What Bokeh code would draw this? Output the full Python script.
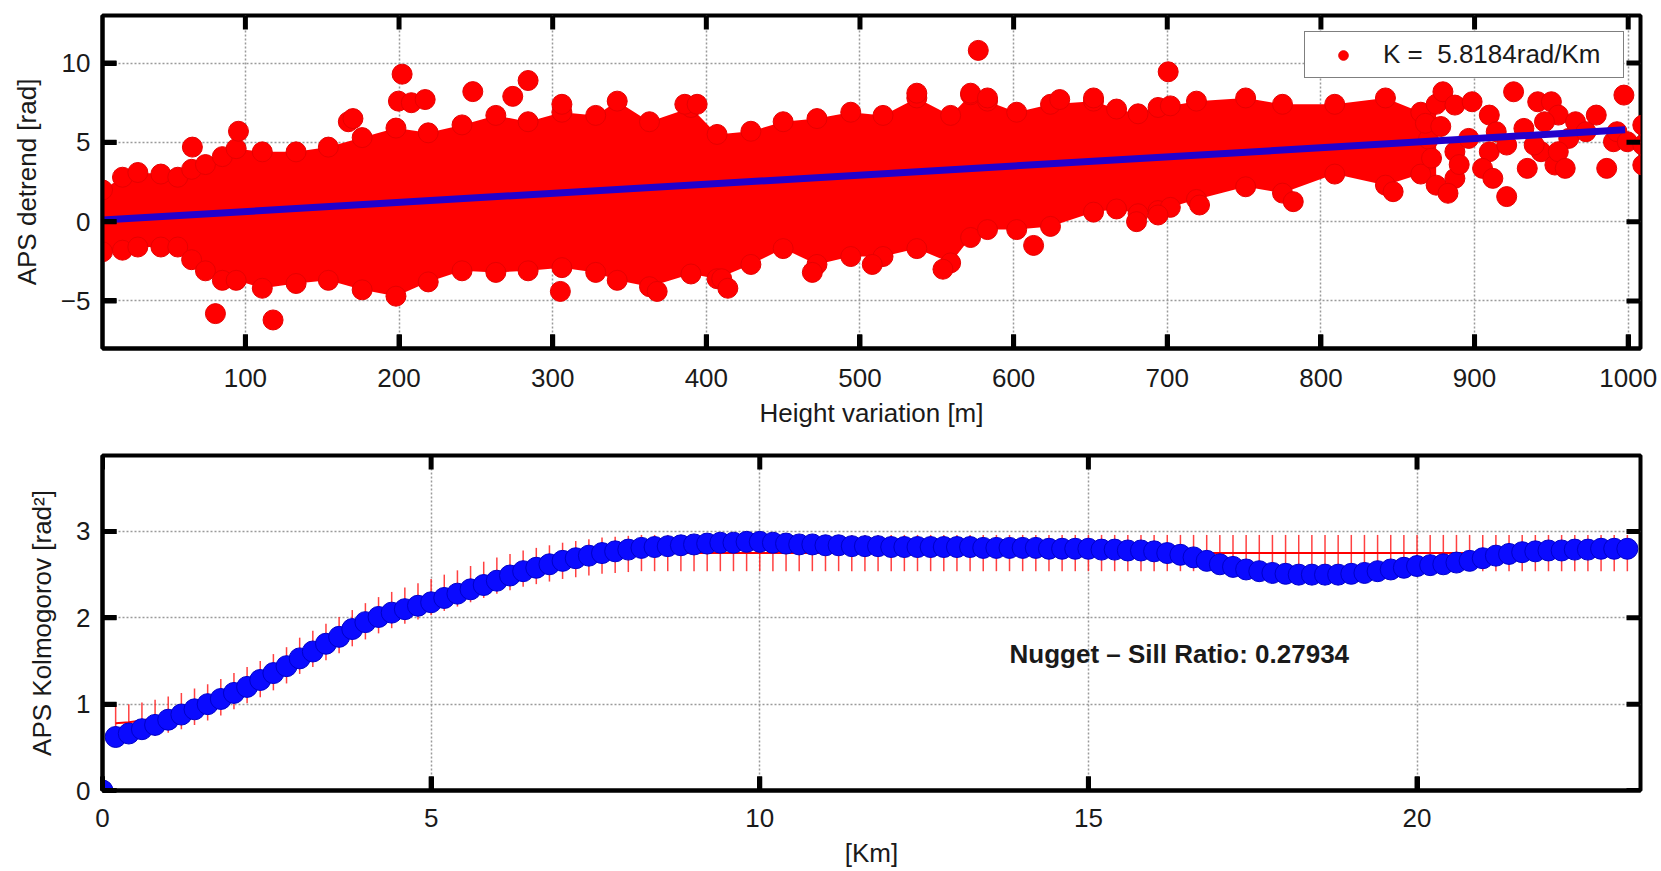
import numpy as np
from bokeh.plotting import figure
from bokeh.layouts import column
from bokeh.models import (ColumnDataSource, FixedTicker, Range1d,
                          Legend, LegendItem, Label)
from bokeh.embed import file_html
from bokeh.resources import INLINE

FONT = "Liberation Sans"

# ---------------- top panel data ----------------
height_range = (7, 1008)
detrend_range = (-8, 13)
cloud_x = [7, 20, 30, 45, 56, 65, 74, 85, 94, 111, 133, 154, 176, 198, 219, 241,
           263, 284, 306, 328, 342, 363, 390, 407, 429, 450, 472, 494, 515, 537,
           559, 572, 583, 602, 624, 652, 667, 681, 694, 702, 719, 751, 775, 809,
           842, 865, 875]
cloud_upper = [2.0, 2.8, 3.1, 3.0, 2.8, 3.3, 3.6, 4.1, 4.6, 4.4, 4.4, 4.7, 5.3, 5.9,
               5.6, 6.1, 6.7, 6.3, 6.9, 6.7, 7.6, 6.3, 7.2, 5.5, 5.7, 6.3, 6.5, 6.9,
               6.7, 7.8, 6.7, 8.0, 7.6, 6.9, 7.4, 7.6, 7.1, 6.8, 7.2, 7.3, 7.6, 7.8,
               7.4, 7.4, 7.8, 6.9, 7.4]
cloud_lower = [-1.9, -1.8, -1.6, -1.6, -1.6, -2.4, -3.1, -3.7, -3.7, -4.2, -3.9, -3.7,
               -4.3, -4.7, -3.8, -3.1, -3.2, -3.1, -2.9, -3.2, -3.7, -4.1, -3.3, -3.6,
               -2.7, -1.7, -2.7, -2.2, -2.2, -1.7, -2.6, -1.0, -0.5, -0.5, -0.3, 0.6,
               0.8, 0.5, 0.7, 0.9, 1.4, 2.2, 1.8, 3.0, 2.3, 3.0, 2.3]
outlier_x = [65.5, 95.5, 167, 170, 202, 199.6, 208, 217, 248, 274, 284, 306, 386, 394,
             537, 572, 577, 583, 630, 652, 700.6, 80.5, 118, 305, 368, 410, 414, 469,
             508, 554, 613, 680, 721, 782, 847, 694]
outlier_y = [4.7, 5.7, 6.3, 6.5, 9.3, 7.6, 7.5, 7.7, 8.2, 7.9, 8.9, 7.4, 7.4, 7.4,
             8.1, 8.1, 10.8, 7.8, 7.7, 7.8, 9.45, -5.8, -6.2, -4.4, -4.4, -3.6, -4.2,
             -3.2, -2.7, -3.0, -1.5, 0.0, 1.05, 1.26, 1.89, 0.42]
sparse_x = [879.4, 887.2, 898.4, 909.6, 914.1, 909.6, 905.2, 920.9, 925.4, 920.9,
            911.9, 932.1, 934.3, 941.1, 950.0, 954.5, 945.5, 943.3, 952.3, 961.3,
            965.7, 972.5, 979.2, 986.0, 990.4, 997.2, 992.7, 999.4, 1009.5, 1009.5,
            1009.5, 887.2, 887.2, 882.7, 896.2, 954.5, 959.0, 938.8, 870.0, 872.0,
            868.0, 878.0, 890.0]
sparse_y = [8.19, 7.35, 7.56, 6.72, 5.67, 4.41, 3.36, 4.83, 8.19, 1.58, 2.73, 5.88,
            3.36, 7.56, 7.56, 6.72, 6.30, 4.41, 3.57, 5.25, 6.30, 5.67, 6.72, 3.36,
            5.04, 7.98, 5.67, 5.04, 6.09, 4.83, 3.57, 4.41, 2.73, 1.79, 5.25, 4.41,
            3.36, 4.83, 5.2, 4.0, 6.2, 6.0, 3.6]
fit_x = [7, 998]
fit_y = [0.1, 5.8]
height_ticks = [100, 200, 300, 400, 500, 600, 700, 800, 900, 1000]
detrend_ticks = [-5, 0, 5, 10]
legend_label = "K = \u00a05.8184rad/Km"

# ---------------- bottom panel data ----------------
km_range = (0, 23.4)
kolm_range = (0, 3.88)
lag_km = [0.2, 0.4, 0.6, 0.8, 1.0, 1.2, 1.4, 1.6, 1.8, 2.0,
          2.2, 2.4, 2.6, 2.8, 3.0, 3.2, 3.4, 3.6, 3.8, 4.0,
          4.2, 4.4, 4.6, 4.8, 5.0, 5.2, 5.4, 5.6, 5.8, 6.0,
          6.2, 6.4, 6.6, 6.8, 7.0, 7.2, 7.4, 7.6, 7.8, 8.0,
          8.2, 8.4, 8.6, 8.8, 9.0, 9.2, 9.4, 9.6, 9.8, 10.0,
          10.2, 10.4, 10.6, 10.8, 11.0, 11.2, 11.4, 11.6, 11.8, 12.0,
          12.2, 12.4, 12.6, 12.8, 13.0, 13.2, 13.4, 13.6, 13.8, 14.0,
          14.2, 14.4, 14.6, 14.8, 15.0, 15.2, 15.4, 15.6, 15.8, 16.0,
          16.2, 16.4, 16.6, 16.8, 17.0, 17.2, 17.4, 17.6, 17.8, 18.0,
          18.2, 18.4, 18.6, 18.8, 19.0, 19.2, 19.4, 19.6, 19.8, 20.0,
          20.2, 20.4, 20.6, 20.8, 21.0, 21.2, 21.4, 21.6, 21.8, 22.0,
          22.2, 22.4, 22.6, 22.8, 23.0, 23.2]
gamma_exp = [0.62, 0.66, 0.71, 0.76, 0.82, 0.88, 0.94, 1.00, 1.06, 1.13,
             1.20, 1.28, 1.36, 1.44, 1.53, 1.61, 1.70, 1.78, 1.87, 1.95,
             2.01, 2.06, 2.10, 2.14, 2.18, 2.23, 2.28, 2.33, 2.38, 2.43,
             2.49, 2.54, 2.58, 2.62, 2.66, 2.69, 2.72, 2.75, 2.77, 2.79,
             2.81, 2.82, 2.83, 2.84, 2.85, 2.86, 2.87, 2.87, 2.88, 2.88,
             2.87, 2.86, 2.85, 2.85, 2.84, 2.84, 2.83, 2.83, 2.83, 2.82,
             2.82, 2.82, 2.82, 2.82, 2.82, 2.82, 2.81, 2.81, 2.81, 2.81,
             2.81, 2.80, 2.80, 2.80, 2.80, 2.79, 2.79, 2.78, 2.78, 2.77,
             2.75, 2.73, 2.70, 2.66, 2.62, 2.59, 2.56, 2.54, 2.52, 2.51,
             2.50, 2.50, 2.50, 2.50, 2.51, 2.52, 2.54, 2.56, 2.58, 2.60,
             2.61, 2.62, 2.64, 2.66, 2.69, 2.72, 2.74, 2.76, 2.77, 2.78,
             2.78, 2.79, 2.79, 2.80, 2.80, 2.80]
gamma_model = [0.78, 0.79, 0.81, 0.84, 0.88, 0.92, 0.97, 1.02, 1.08, 1.15,
               1.22, 1.29, 1.37, 1.45, 1.56, 1.64, 1.72, 1.80, 1.88, 1.96,
               2.03, 2.09, 2.14, 2.19, 2.24, 2.29, 2.34, 2.39, 2.44, 2.49,
               2.53, 2.57, 2.60, 2.63, 2.66, 2.68, 2.70, 2.72, 2.73, 2.74,
               2.75, 2.75, 2.75, 2.75, 2.75, 2.75, 2.75, 2.75, 2.75, 2.75,
               2.75, 2.75, 2.75, 2.75, 2.75, 2.75, 2.75, 2.75, 2.75, 2.75,
               2.75, 2.75, 2.75, 2.75, 2.75, 2.75, 2.75, 2.75, 2.75, 2.75,
               2.75, 2.75, 2.75, 2.75, 2.75, 2.75, 2.75, 2.75, 2.75, 2.75,
               2.75, 2.75, 2.75, 2.75, 2.75, 2.75, 2.75, 2.75, 2.75, 2.75,
               2.75, 2.75, 2.75, 2.75, 2.75, 2.75, 2.75, 2.75, 2.75, 2.75,
               2.75, 2.75, 2.75, 2.75, 2.75, 2.75, 2.75, 2.75, 2.75, 2.75,
               2.75, 2.75, 2.75, 2.75, 2.75, 2.75]
model_err = 0.21
origin_x = [0.0]
origin_y = [0.0]
km_ticks = [0, 5, 10, 15, 20]
kolm_ticks = [0, 1, 2, 3]
ratio_text = "Nugget \u2013 Sill Ratio: 0.27934"
ratio_x = 13.8
ratio_y = 1.58

# ---------------- layout constants ----------------
FIG_W = 1661
BORDER_L, BORDER_R = 102, 21
FRAME_W = FIG_W - BORDER_L - BORDER_R
TICK_PX = 14
TICK_W = 5


def matlab_style(p, xticks, yticks, xr, yr, frame_h, xlabel, ylabel,
                 tick_standoff, title_standoff):
    p.outline_line_color = "black"
    p.outline_line_width = 4
    p.background_fill_color = "white"
    p.border_fill_color = "white"
    xa, ya = p.below[0], p.left[0]
    xa.ticker = FixedTicker(ticks=xticks)
    ya.ticker = FixedTicker(ticks=yticks)
    xa.axis_label = xlabel
    ya.axis_label = ylabel
    for ax in (xa, ya):
        ax.axis_line_color = "black"
        ax.axis_line_width = 4
        ax.major_tick_in = TICK_PX
        ax.major_tick_out = 0
        ax.major_tick_line_width = TICK_W
        ax.major_tick_line_color = "black"
        ax.minor_tick_line_color = None
        ax.major_label_text_font = FONT
        ax.major_label_text_font_size = "26px"
        ax.major_label_text_color = "#1a1a1a"
        ax.axis_label_text_font = FONT
        ax.axis_label_text_font_size = "26px"
        ax.axis_label_text_font_style = "normal"
        ax.axis_label_text_color = "#1a1a1a"
    xa.major_label_standoff = tick_standoff
    xa.axis_label_standoff = title_standoff
    ya.major_label_standoff = 12
    ya.axis_label_standoff = 16
    p.xgrid.ticker = FixedTicker(ticks=xticks)
    p.ygrid.ticker = FixedTicker(ticks=yticks)
    for g in (p.xgrid, p.ygrid):
        g.grid_line_color = "#9a9a9a"
        g.grid_line_dash = "2 2"
        g.grid_line_width = 1.5
    # MATLAB box: inward ticks on all four edges as small filled black rectangles
    # (screen-sized), centred half a tick inside each edge.
    hy = 0.5 * TICK_PX * (yr[1] - yr[0]) / frame_h
    hx = 0.5 * TICK_PX * (xr[1] - xr[0]) / FRAME_W
    nx, ny = len(xticks), len(yticks)
    p.rect(x=list(xticks) * 2, y=[yr[1] - hy] * nx + [yr[0] + hy] * nx,
           width=TICK_W, height=TICK_PX, width_units="screen", height_units="screen",
           fill_color="black", line_color=None)
    p.rect(x=[xr[1] - hx] * ny + [xr[0] + hx] * ny, y=list(yticks) * 2,
           width=TICK_PX, height=TICK_W, width_units="screen", height_units="screen",
           fill_color="black", line_color=None)


# ---------------- top figure ----------------
H1, TOP1, BOT1 = 440, 15, 92
p1 = figure(width=FIG_W, height=H1, title=None, output_backend="svg", toolbar_location=None,
            x_range=Range1d(*height_range), y_range=Range1d(*detrend_range),
            min_border_left=BORDER_L, min_border_right=BORDER_R,
            min_border_top=TOP1, min_border_bottom=BOT1)

cloud_src = ColumnDataSource(dict(x=cloud_x, up=cloud_upper, lo=cloud_lower))
p1.varea(x="x", y1="lo", y2="up", source=cloud_src, fill_color="#ff0000")
p1.scatter(x="x", y="up", source=cloud_src, size=20, fill_color="#ff0000", line_color="#e60000")
p1.scatter(x="x", y="lo", source=cloud_src, size=20, fill_color="#ff0000", line_color="#e60000")
p1.scatter(x=sparse_x, y=sparse_y, size=20, fill_color="#ff0000", line_color="#e60000")
r_out = p1.scatter(x=outlier_x, y=outlier_y, size=20, fill_color="#ff0000", line_color="#e60000")
p1.line(x=fit_x, y=fit_y, line_color="#2200cc", line_width=7)
matlab_style(p1, height_ticks, detrend_ticks, height_range, detrend_range, H1 - TOP1 - BOT1,
             "Height variation [m]", "APS detrend [rad]", 20, 8)

legend = Legend(items=[LegendItem(label=legend_label, renderers=[r_out])],
                location="top_right", margin=16, padding=7, glyph_width=62, glyph_height=24,
                label_standoff=9, label_height=24, label_width=233,
                border_line_color="black", border_line_width=1.5,
                background_fill_color="white", background_fill_alpha=1,
                label_text_font=FONT, label_text_font_size="26px", label_text_color="#1a1a1a")
p1.add_layout(legend)

# ---------------- bottom figure ----------------
H2, TOP2, BOT2 = 431, 15, 81
p2 = figure(width=FIG_W, height=H2, title=None, output_backend="svg", toolbar_location=None,
            x_range=Range1d(*km_range), y_range=Range1d(*kolm_range),
            min_border_left=BORDER_L, min_border_right=BORDER_R,
            min_border_top=TOP2, min_border_bottom=BOT2)

g = np.array(gamma_model)
var_src = ColumnDataSource(dict(lag=lag_km, exp=gamma_exp, model=gamma_model,
                                lo=g - model_err, hi=g + model_err))
p2.segment(x0="lag", y0="lo", x1="lag", y1="hi", source=var_src,
           line_color="#ff2020", line_width=1.5, line_alpha=0.85)
p2.line(x="lag", y="model", source=var_src, line_color="#ff0000", line_width=2)
p2.scatter(x="lag", y="exp", source=var_src, size=21, fill_color="#0a0aff", line_color="#0000c8",
           line_width=1)
p2.scatter(x=origin_x, y=origin_y, size=21, fill_color="#0a0aff", line_color="#0000c8")
p2.add_layout(Label(x=ratio_x, y=ratio_y, text=ratio_text, text_font=FONT,
                    text_font_size="26px", text_font_style="bold", text_color="#1a1a1a",
                    text_baseline="middle", text_align="left"))
matlab_style(p2, km_ticks, kolm_ticks, km_range, kolm_range, H2 - TOP2 - BOT2,
             "[Km]", "APS Kolmogorov [rad\u00b2]", 18, 8)

layout = column(p1, p2)
open("out.html", "w").write(file_html(layout, INLINE))
